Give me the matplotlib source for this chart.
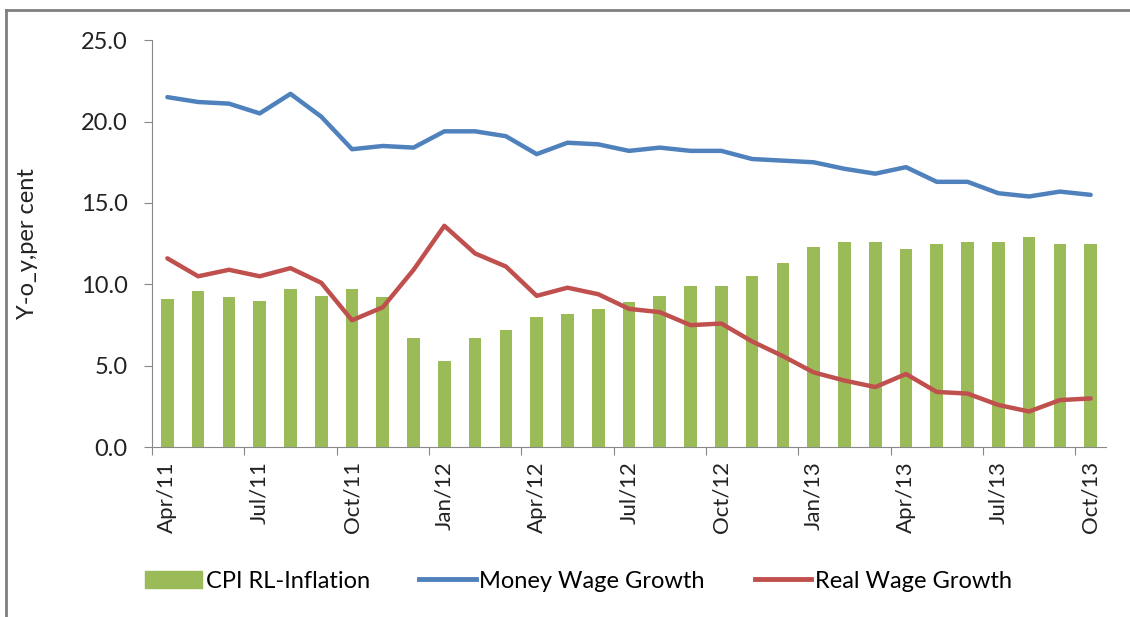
import matplotlib
matplotlib.use("Agg")
import matplotlib.pyplot as plt
from matplotlib.lines import Line2D

months = ['Apr/11', 'May/11', 'Jun/11', 'Jul/11', 'Aug/11', 'Sep/11', 'Oct/11', 'Nov/11', 'Dec/11',
          'Jan/12', 'Feb/12', 'Mar/12', 'Apr/12', 'May/12', 'Jun/12', 'Jul/12', 'Aug/12', 'Sep/12',
          'Oct/12', 'Nov/12', 'Dec/12', 'Jan/13', 'Feb/13', 'Mar/13', 'Apr/13', 'May/13', 'Jun/13',
          'Jul/13', 'Aug/13', 'Sep/13', 'Oct/13']

cpi_inflation = [9.1, 9.6, 9.2, 9.0, 9.7, 9.3, 9.7, 9.2, 6.7, 5.3, 6.7, 7.2, 8.0, 8.2, 8.5, 8.9,
                 9.3, 9.9, 9.9, 10.5, 11.3, 12.3, 12.6, 12.6, 12.2, 12.5, 12.6, 12.6, 12.9, 12.5, 12.5]
money_wage = [21.5, 21.2, 21.1, 20.5, 21.7, 20.3, 18.3, 18.5, 18.4, 19.4, 19.4, 19.1, 18.0, 18.7,
              18.6, 18.2, 18.4, 18.2, 18.2, 17.7, 17.6, 17.5, 17.1, 16.8, 17.2, 16.3, 16.3, 15.6,
              15.4, 15.7, 15.5]
real_wage = [11.6, 10.5, 10.9, 10.5, 11.0, 10.1, 7.8, 8.6, 10.9, 13.6, 11.9, 11.1, 9.3, 9.8, 9.4,
             8.5, 8.3, 7.5, 7.6, 6.5, 5.6, 4.6, 4.1, 3.7, 4.5, 3.4, 3.3, 2.6, 2.2, 2.9, 3.0]

green = '#9BBB59'
blue = '#4F81BD'
red = '#C0504D'
grey = '#888888'
txt = '#222222'

plt.rcParams['font.family'] = ['Lato', 'DejaVu Sans']

fig = plt.figure(figsize=(11.3, 6.17), dpi=100)
ax = fig.add_axes([0.1345, 0.275, 0.8443, 0.66])

x = list(range(len(months)))
ax.bar(x, cpi_inflation, width=0.41, color=green, label='CPI RL-Inflation', zorder=2)
ax.plot(x, money_wage, color=blue, lw=3.2, label='Money Wage Growth', zorder=3,
        solid_joinstyle='round', solid_capstyle='round')
ax.plot(x, real_wage, color=red, lw=3.2, label='Real Wage Growth', zorder=3,
        solid_joinstyle='round', solid_capstyle='round')

ax.set_xlim(-0.5, len(months) - 0.5)
ax.set_ylim(0, 25)
yt = [0, 5, 10, 15, 20, 25]
ax.set_yticks(yt)
ax.set_yticklabels(['%.1f' % v for v in yt], fontsize=17, color=txt)

# ticks at category boundaries every 3 months, labels at category centres
ax.set_xticks([i - 0.5 for i in range(0, len(months), 3)])
ax.set_xticklabels([])
ax.set_xticks(x[::3], minor=True)
ax.set_xticklabels(months[::3], minor=True, rotation=90, fontsize=16, color=txt)
ax.tick_params(axis='x', which='minor', length=0, pad=10)
ax.tick_params(axis='x', which='major', length=5.5, color=grey, direction='out')
ax.tick_params(axis='y', length=5.5, color=grey, direction='out', pad=12)

for s in ['top', 'right']:
    ax.spines[s].set_visible(False)
ax.spines['left'].set_color(grey)
ax.spines['bottom'].set_color(grey)

ax.set_ylabel('Y-o_y,per cent', fontsize=17, color=txt)
ax.yaxis.label.set_va('center')
ax.yaxis.set_label_coords(-0.130, 0.5)

handles = [plt.Rectangle((0, 0), 1, 1, color=green),
           Line2D([], [], color=blue, lw=3.5),
           Line2D([], [], color=red, lw=3.5)]
fig.legend(handles, ['CPI RL-Inflation', 'Money Wage Growth', 'Real Wage Growth'],
           loc='center', bbox_to_anchor=(0.512, 0.058), ncol=3, frameon=False,
           fontsize=17, handlelength=2.4, handleheight=0.7, columnspacing=2.1,
           handletextpad=0.15)

# outer chart frame (partly cropped in the original)
fig.add_artist(Line2D([6 / 1130, 1.0], [1 - 10 / 617, 1 - 10 / 617], color='#7f7f7f', lw=2))
fig.add_artist(Line2D([6 / 1130, 6 / 1130], [1 - 10 / 617, 0.0], color='#7f7f7f', lw=2))

fig.savefig('out.png', dpi=100)
